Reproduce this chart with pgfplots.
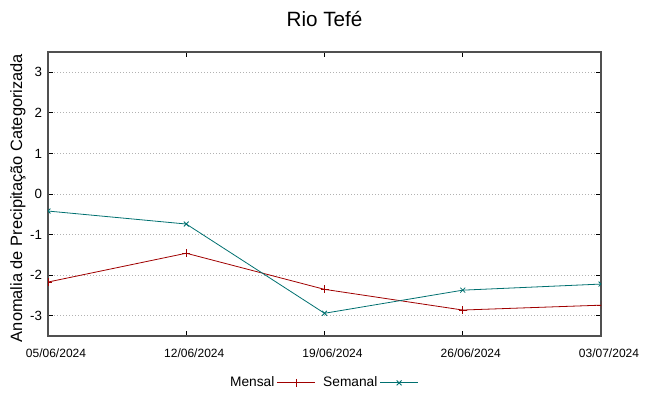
\documentclass[border=0pt]{standalone}
\usepackage{fontspec}
\setmainfont{Liberation Sans}
\usepackage{pgfplots}
\pgfplotsset{compat=1.18}
\definecolor{mensal}{RGB}{160,0,0}
\definecolor{semanal}{RGB}{0,112,112}
\definecolor{framegray}{RGB}{80,80,80}
\begin{document}
\begin{tikzpicture}[x=0.75pt,y=0.75pt]
\useasboundingbox (0,0) rectangle (649,396);
\begin{axis}[
  at={(36pt,45pt)}, anchor=south west,
  scale only axis, width=414.75pt, height=213pt,
  xmin=0, xmax=4, ymin=-3.5, ymax=3.5,
  xtick={0,1,2,3,4},
  xticklabels={05/06/2024,12/06/2024,19/06/2024,26/06/2024,03/07/2024},
  ytick={-3,-2,-1,0,1,2,3},
  tick align=inside,
  major tick length=4pt,
  tick style={black, line width=0.6pt},
  axis line style={framegray, line width=0.8pt},
  ymajorgrids,
  grid style={gray!60, dash pattern=on 0.75pt off 1.5pt, line width=0.6pt},
  /pgf/number format/assume math mode=true,
  ticklabel style={font=\fontsize{9}{10}\selectfont},
  yticklabel style={font=\fontsize{10}{12}\selectfont, xshift=-1pt},
  xticklabel style={xshift=6pt, yshift=-6pt},
  legend columns=2,
  legend plot pos=right,
  legend style={draw=none, fill=none, at={(0.497,-0.165)}, anchor=center,
    font=\fontsize{10.3}{12}\selectfont,
    /tikz/every even column/.append style={column sep=4pt}},
  legend image code/.code={\draw[mark repeat=2,mark phase=2,#1] plot coordinates {(0pt,0pt) (14pt,0pt) (28pt,0pt)};},
  clip marker paths=true,
]
\addplot[mensal, line width=0.6pt, mark=+, mark size=3pt, mark options={solid}]
  coordinates {(0,-2.17) (1,-1.46) (2,-2.35) (3,-2.86) (4,-2.74)};
\addlegendentry{Mensal}
\addplot[semanal, line width=0.6pt, mark=x, mark size=2.6pt, mark options={solid}]
  coordinates {(0,-0.42) (1,-0.74) (2,-2.94) (3,-2.37) (4,-2.22)};
\addlegendentry{Semanal}
\end{axis}
\node[anchor=base, font=\fontsize{15.5}{18}\selectfont] at (324.5,369) {Rio Tefé};
\node[rotate=90, font=\fontsize{12.3}{14}\selectfont] at (18,198) {Anomalia de Precipitação Categorizada};
\end{tikzpicture}
\end{document}
